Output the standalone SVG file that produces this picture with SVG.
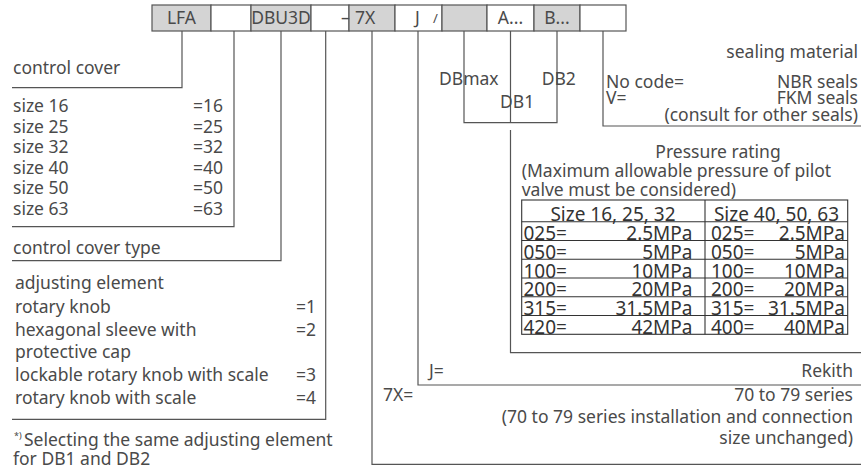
<svg xmlns="http://www.w3.org/2000/svg" width="863" height="469" viewBox="0 0 863 469">
<style>
text{font-family:"Noto Sans","Liberation Sans",sans-serif;font-size:17.5px;fill:#4a4a4a;}
.e{text-anchor:end}
.m{text-anchor:middle}
.t{font-size:19px;fill:#333}
.h{font-size:17.5px}
.g{fill:#d4d4d4;stroke:#555;stroke-width:1.2}
.w{fill:#fff;stroke:#555;stroke-width:1.2}
.c{fill:none;stroke:#555;stroke-width:1.2}
.tb{fill:none;stroke:#333;stroke-width:1.1}
</style>
<rect width="863" height="469" fill="#fff"/>
<g id="header">
<rect class="g" x="152" y="5" width="59" height="26"/>
<rect class="w" x="211" y="5" width="40" height="26"/>
<rect class="g" x="251" y="5" width="60" height="26"/>
<rect class="w" x="311" y="5" width="38" height="26"/>
<rect class="g" x="349" y="5" width="46" height="26"/>
<rect class="w" x="395" y="5" width="47" height="26"/>
<rect class="g" x="442" y="5" width="45" height="26"/>
<rect class="w" x="487" y="5" width="47" height="26"/>
<rect class="g" x="534" y="5" width="46" height="26"/>
<rect class="w" x="580" y="5" width="46" height="26"/>
<text class="m h" x="181.5" y="24">LFA</text>
<text class="m h" x="281" y="24">DBU3D</text>
<text class="h" x="341" y="24">–</text>
<text class="h" x="355" y="24">7X</text>
<text class="h" x="415" y="24">J</text>
<text class="h" x="433" y="23" style="font-size:13px">/</text>
<text class="m h" x="510.5" y="24">A...</text>
<text class="m h" x="557" y="24">B...</text>
</g>
<g id="connectors">
<path class="c" d="M182 31V87.7H12"/>
<path class="c" d="M234 31V226.7H12"/>
<path class="c" d="M281 31V260.7H12"/>
<path class="c" d="M325.7 31V419.3H12"/>
<path class="c" d="M372 31V464.3H861"/>
<path class="c" d="M418 31V385H861"/>
<path class="c" d="M464 31V122.7H557V31"/>
<path class="c" d="M510.5 31V122.7"/>
<path class="c" d="M510.5 130V352.7H861"/>
<path class="c" d="M603 31V126H861"/>
</g>
<g id="control-cover">
<text x="13" y="74">control cover</text>
</g>
<g id="sizes">
<text x="13" y="112">size 16</text><text class="e" x="223" y="112">=16</text>
<text x="13" y="132.5">size 25</text><text class="e" x="223" y="132.5">=25</text>
<text x="13" y="153">size 32</text><text class="e" x="223" y="153">=32</text>
<text x="13" y="173.5">size 40</text><text class="e" x="223" y="173.5">=40</text>
<text x="13" y="194">size 50</text><text class="e" x="223" y="194">=50</text>
<text x="13" y="214.5">size 63</text><text class="e" x="223" y="214.5">=63</text>
</g>
<g id="cover-type">
<text x="13" y="254">control cover type</text>
</g>
<g id="adjusting">
<text x="15" y="289">adjusting element</text>
<text x="15" y="313">rotary knob</text><text class="e" x="316" y="313">=1</text>
<text x="15" y="336">hexagonal sleeve with</text><text class="e" x="316" y="336">=2</text>
<text x="15" y="357.5">protective cap</text>
<text x="15" y="381">lockable rotary knob with scale</text><text class="e" x="316" y="381">=3</text>
<text x="15" y="404">rotary knob with scale</text><text class="e" x="316" y="404">=4</text>
</g>
<g id="footnote">
<text x="14" y="439" style="font-size:9px">*)</text>
<text x="24" y="446">Selecting the same adjusting element</text>
<text x="13" y="465">for DB1 and DB2</text>
</g>
<g id="db-labels">
<text x="439" y="85">DBmax</text>
<text x="541.7" y="85">DB2</text>
<text x="500" y="107.5">DB1</text>
</g>
<g id="sealing">
<text class="e" x="858" y="57.5">sealing material</text>
<text x="606" y="87.5">No code=</text><text class="e" x="858" y="87.5">NBR seals</text>
<text x="606" y="104">V=</text><text class="e" x="858" y="104">FKM seals</text>
<text class="e" x="858" y="121">(consult for other seals)</text>
</g>
<g id="pressure">
<text class="m" x="718" y="157.5">Pressure rating</text>
<text x="521.7" y="177">(Maximum allowable pressure of pilot</text>
<text x="521.7" y="195.5">valve must be considered)</text>
<rect class="tb" x="521.7" y="200" width="326" height="134.3"/>
<path class="tb" d="M705 200V334.3M521.7 221.7H847.7M521.7 240.5H847.7M521.7 259.2H847.7M521.7 278H847.7M521.7 296.8H847.7M521.7 315.5H847.7"/>
<text class="t m" x="613" y="221">Size 16, 25, 32</text>
<text class="t m" x="776.5" y="221">Size 40, 50, 63</text>
<text class="t" x="523.5" y="240">025=</text><text class="t e" x="692.5" y="240">2.5MPa</text><text class="t" x="711" y="240">025=</text><text class="t e" x="845" y="240">2.5MPa</text>
<text class="t" x="523.5" y="258.7">050=</text><text class="t e" x="692.5" y="258.7">5MPa</text><text class="t" x="711" y="258.7">050=</text><text class="t e" x="845" y="258.7">5MPa</text>
<text class="t" x="523.5" y="277.5">100=</text><text class="t e" x="692.5" y="277.5">10MPa</text><text class="t" x="711" y="277.5">100=</text><text class="t e" x="845" y="277.5">10MPa</text>
<text class="t" x="523.5" y="296.3">200=</text><text class="t e" x="692.5" y="296.3">20MPa</text><text class="t" x="711" y="296.3">200=</text><text class="t e" x="845" y="296.3">20MPa</text>
<text class="t" x="523.5" y="315">315=</text><text class="t e" x="692.5" y="315">31.5MPa</text><text class="t" x="711" y="315">315=</text><text class="t e" x="845" y="315">31.5MPa</text>
<text class="t" x="523.5" y="333.8">420=</text><text class="t e" x="692.5" y="333.8">42MPa</text><text class="t" x="711" y="333.8">400=</text><text class="t e" x="845" y="333.8">40MPa</text>
</g>
<g id="rekith">
<text x="429" y="376.5">J=</text><text class="e" x="853" y="376.5">Rekith</text>
</g>
<g id="series">
<text x="383" y="401">7X=</text><text class="e" x="853" y="401">70 to 79 series</text>
<text class="e" x="853" y="422.5">(70 to 79 series installation and connection</text>
<text class="e" x="853" y="444">size unchanged)</text>
</g>
</svg>
